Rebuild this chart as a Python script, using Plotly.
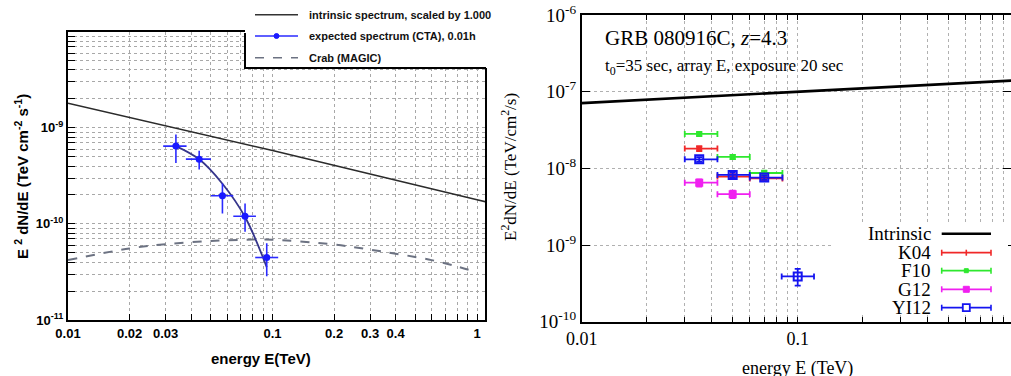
import plotly.graph_objects as go

W, H = 1011, 376

# ---------------- Left panel data ----------------
L_INTR_E = [0.01, 0.1, 1.0, 1.1]
L_INTR_V = [1.8e-9, 5.8e-10, 1.78e-10, 1.70e-10]

CRAB_E = [0.01, 0.02, 0.03, 0.05, 0.08, 0.1, 0.2, 0.3, 0.4, 0.6, 0.8, 0.95]
CRAB_V = [4.2e-11, 5.55e-11, 6.15e-11, 6.65e-11, 6.87e-11, 6.85e-11, 6.1e-11,
          5.4e-11, 4.9e-11, 4.2e-11, 3.6e-11, 3.24e-11]

MODEL_E = [0.0337, 0.0438, 0.0569, 0.0734, 0.0937]
MODEL_V = [6.45e-10, 4.7e-10, 2.62e-10, 1.18e-10, 3.55e-11]

CTA_E = [0.0337, 0.0438, 0.0569, 0.0734, 0.0937]
CTA_E_LO = [0.0292, 0.0377, 0.0500, 0.0643, 0.0823]
CTA_E_HI = [0.0380, 0.0500, 0.0643, 0.0830, 0.1066]
CTA_V = [6.45e-10, 4.72e-10, 1.96e-10, 1.2e-10, 4.47e-11]
CTA_V_LO = [4.3e-10, 3.69e-10, 1.28e-10, 8.3e-11, 2.85e-11]
CTA_V_HI = [8.5e-10, 5.76e-10, 2.63e-10, 1.63e-10, 6.3e-11]

L_XTICK_LABELS = {0.01: "0.01", 0.02: "0.02", 0.03: "0.03", 0.1: "0.1",
                  0.2: "0.2", 0.3: "0.3", 0.4: "0.4", 1.0: "1"}
L_YTICK_LABELS = {1e-11: "10<sup>-11</sup>", 1e-10: "10<sup>-10</sup>", 1e-9: "10<sup>-9</sup>"}

# ---------------- Right panel data ----------------
R_INTR_E = [0.01, 0.1, 1.0]
R_INTR_V = [7.1e-8, 1.0e-7, 1.4e-7]

BIN_E = [0.035, 0.05, 0.07, 0.1]
BIN_LO = [0.03, 0.0425, 0.06, 0.0843]
BIN_HI = [0.0425, 0.06, 0.085, 0.119]

K04_V = [1.81e-8, 7.8e-9, 7.4e-9]
K04_ERR = [1.3e-9, 5.5e-10, 5.5e-10]
F10_V = [2.81e-8, 1.41e-8, 8.7e-9]
F10_ERR = [1.6e-9, 9e-10, 6e-10]
G12_V = [6.5e-9, 4.6e-9]
G12_ERR = [7e-10, 5e-10]
YI12_V = [1.31e-8, 8.2e-9, 7.57e-9, 3.9e-10]
YI12_ERR_HI = [9e-10, 6e-10, 5e-10, 1.0e-10]
YI12_ERR_LO = [9e-10, 6e-10, 5e-10, 0.95e-10]

R_XTICK_LABELS = {0.01: "0.01", 0.1: "0.1", 1.0: "1"}
R_YTICK_LABELS = {1e-10: "10<sup>-10</sup>", 1e-9: "10<sup>-9</sup>", 1e-8: "10<sup>-8</sup>",
                  1e-7: "10<sup>-7</sup>", 1e-6: "10<sup>-6</sup>"}


def px(x):
    return x / W


def py(y):
    return 1 - y / H


def log_multiples(first_exp, last_exp, end_exp_inclusive=True):
    vals = []
    for e in range(first_exp, last_exp):
        for m in range(1, 10):
            vals.append(round(m * 10 ** e, 14))
    if end_exp_inclusive:
        vals.append(10 ** last_exp)
    return vals


def xerr(center, lo, hi):
    return [h - c for c, h in zip(center, hi)], [c - l for c, l in zip(center, lo)]


fig = go.Figure()

# ---------- left traces ----------
fig.add_trace(go.Scatter(x=L_INTR_E, y=L_INTR_V, mode="lines",
                         line=dict(color="#2b2b2b", width=1.6),
                         xaxis="x", yaxis="y", showlegend=False))
fig.add_trace(go.Scatter(x=CRAB_E, y=CRAB_V, mode="lines",
                         line=dict(color="#6c7282", width=2, dash="dash", shape="spline"),
                         xaxis="x", yaxis="y", showlegend=False))
fig.add_trace(go.Scatter(x=MODEL_E, y=MODEL_V, mode="lines",
                         line=dict(color="#36368c", width=1.8, shape="spline"),
                         xaxis="x", yaxis="y", showlegend=False))
ex_p, ex_m = xerr(CTA_E, CTA_E_LO, CTA_E_HI)
ey_p = [h - v for v, h in zip(CTA_V, CTA_V_HI)]
ey_m = [v - l for v, l in zip(CTA_V, CTA_V_LO)]
fig.add_trace(go.Scatter(x=CTA_E, y=CTA_V, mode="markers",
                         marker=dict(color="#1a1aff", size=7),
                         error_x=dict(type="data", symmetric=False, array=ex_p, arrayminus=ex_m,
                                      color="#2a2aff", thickness=1.6, width=0),
                         error_y=dict(type="data", symmetric=False, array=ey_p, arrayminus=ey_m,
                                      color="#2a2aff", thickness=1.6, width=0),
                         xaxis="x", yaxis="y", showlegend=False))

# ---------- right traces ----------
fig.add_trace(go.Scatter(x=R_INTR_E, y=R_INTR_V, mode="lines",
                         line=dict(color="black", width=2.6),
                         xaxis="x2", yaxis="y2", showlegend=False))


def series(vals, errp, errm, color, symbol, size, lw=1.8):
    n = len(vals)
    e = BIN_E[:n]
    xp, xm = xerr(e, BIN_LO[:n], BIN_HI[:n])
    return go.Scatter(x=e, y=vals, mode="markers",
                      marker=dict(color=color, size=size, symbol=symbol,
                                  line=dict(color=color, width=2)),
                      error_x=dict(type="data", symmetric=False, array=xp, arrayminus=xm,
                                   color=color, thickness=lw, width=3),
                      error_y=dict(type="data", symmetric=False, array=errp, arrayminus=errm,
                                   color=color, thickness=lw, width=3),
                      xaxis="x2", yaxis="y2", showlegend=False)


fig.add_trace(series(K04_V, K04_ERR, K04_ERR, "#f02828", "square", 4))
fig.add_trace(series(F10_V, F10_ERR, F10_ERR, "#2ee82e", "square", 4))
fig.add_trace(series(G12_V, G12_ERR, G12_ERR, "#f020f0", "square", 6))
fig.add_trace(series(YI12_V, YI12_ERR_HI, YI12_ERR_LO, "#1414f0", "square-open", 8))

# ---------- axes ----------
lx_vals = log_multiples(-2, 0)
ly_vals = log_multiples(-11, -8)
rx_vals = log_multiples(-2, 0)
ry_major = [1e-10, 1e-9, 1e-8, 1e-7, 1e-6]
ry_minor = [v for v in log_multiples(-10, -6, False) if v not in ry_major]


def label_for(d, v):
    for k, t in d.items():
        if abs(v - k) / k < 1e-6:
            return t
    return ""


LFONT = dict(family="Liberation Sans, Arial, sans-serif", size=13, color="black")
RFONT = dict(family="Liberation Serif, Times New Roman, serif", size=18, color="black")

fig.update_layout(
    width=W, height=H, margin=dict(l=0, r=0, t=0, b=0, pad=0, autoexpand=False),
    paper_bgcolor="white", plot_bgcolor="white",
    xaxis=dict(type="log", domain=[px(68), px(485)], range=[-2, 0.039], anchor="y", automargin=False,
               tickmode="array", tickvals=lx_vals,
               ticktext=["<b>%s</b>" % label_for(L_XTICK_LABELS, v) if label_for(L_XTICK_LABELS, v) else "" for v in lx_vals],
               tickfont=LFONT, ticks="inside", ticklen=6, tickcolor="black",
               showline=True, linecolor="black", linewidth=2, mirror=True,
               showgrid=True, gridcolor="#a8a8a8", griddash="dot", gridwidth=1,
               zeroline=False),
    yaxis=dict(type="log", domain=[py(320), py(31.7)], range=[-11, -8], anchor="x", automargin=False,
               tickmode="array", tickvals=ly_vals,
               ticktext=["<b>%s</b>" % label_for(L_YTICK_LABELS, v) if label_for(L_YTICK_LABELS, v) else "" for v in ly_vals],
               tickfont=LFONT, ticks="inside", ticklen=7, tickcolor="black",
               showline=True, linecolor="black", linewidth=2, mirror=True,
               showgrid=True, gridcolor="#a8a8a8", griddash="dot", gridwidth=1,
               zeroline=False),
    xaxis2=dict(type="log", domain=[px(581.7), 1.0], range=[-2, -2 + (W - 581.7) / 216.0], anchor="y2",
                automargin=False,
                tickmode="array", tickvals=rx_vals,
                ticktext=[label_for(R_XTICK_LABELS, v) for v in rx_vals],
                tickfont=RFONT, ticks="inside", ticklen=5, tickcolor="black",
                showline=True, linecolor="black", linewidth=1.6, mirror="ticks",
                showgrid=True, gridcolor="#b0b0b0", griddash="dot", gridwidth=1,
                zeroline=False),
    yaxis2=dict(type="log", domain=[py(321.7), py(15)], range=[-10, -6], anchor="x2", automargin=False,
                tickmode="array", tickvals=ry_major,
                ticktext=[label_for(R_YTICK_LABELS, v) for v in ry_major],
                tickfont=dict(family="Liberation Serif, Times New Roman, serif", size=19, color="black"),
                ticks="inside", ticklen=8, tickcolor="black",
                showline=True, linecolor="black", linewidth=1.6, mirror="ticks",
                showgrid=True, gridcolor="#b0b0b0", griddash="dot", gridwidth=1,
                zeroline=False),
    yaxis3=dict(type="log", domain=[py(321.7), py(15)], range=[-10, -6], anchor="x2", automargin=False,
                overlaying="y2", side="left",
                tickmode="array", tickvals=ry_minor, showticklabels=False,
                ticks="inside", ticklen=4, tickcolor="black", mirror="ticks",
                showline=False, showgrid=False, zeroline=False),
)

# ---------- shapes ----------
shapes = []
# left legend box
shapes.append(dict(type="rect", xref="paper", yref="paper", x0=px(245), x1=px(499), y0=py(68), y1=1.0,
                   fillcolor="white", line=dict(width=0), layer="above"))
shapes.append(dict(type="line", xref="paper", yref="paper", x0=px(245), x1=px(245), y0=py(68), y1=py(33),
                   line=dict(color="black", width=2), layer="above"))
shapes.append(dict(type="line", xref="paper", yref="paper", x0=px(244), x1=px(486), y0=py(68), y1=py(68),
                   line=dict(color="black", width=2), layer="above"))
# left legend samples
shapes.append(dict(type="line", xref="paper", yref="paper", x0=px(255), x1=px(298), y0=py(14.7), y1=py(14.7),
                   line=dict(color="#333333", width=1.6), layer="above"))
shapes.append(dict(type="line", xref="paper", yref="paper", x0=px(255), x1=px(298), y0=py(36), y1=py(36),
                   line=dict(color="#2a2aff", width=1.6), layer="above"))
shapes.append(dict(type="circle", xref="paper", yref="paper", x0=px(274), x1=px(279), y0=py(38.5), y1=py(33.5),
                   fillcolor="#1a1aff", line=dict(color="#1a1aff", width=1), layer="above"))
shapes.append(dict(type="line", xref="paper", yref="paper", x0=px(255), x1=px(298), y0=py(57.7), y1=py(57.7),
                   line=dict(color="#6c7282", width=1.6, dash="dash"), layer="above"))

# right legend background (covers grid lines, leaves bottom ticks visible)
shapes.append(dict(type="rect", xref="paper", yref="paper",
                   x0=px(832), x1=px(1008), y0=py(315), y1=py(222),
                   fillcolor="white", line=dict(width=0), layer="above"))

# right legend samples
leg_y = [233.7, 252.7, 270.7, 289.3, 307.7]
leg_cols = ["black", "#f02828", "#2ee82e", "#f020f0", "#1414f0"]
for i, (yy, c) in enumerate(zip(leg_y, leg_cols)):
    shapes.append(dict(type="line", xref="paper", yref="paper", x0=px(941.7), x1=px(991), y0=py(yy), y1=py(yy),
                       line=dict(color=c, width=2.4 if i == 0 else 1.8), layer="above"))
    if i > 0:
        for xx in (941.7, 991):
            shapes.append(dict(type="line", xref="paper", yref="paper", x0=px(xx), x1=px(xx),
                               y0=py(yy - 3), y1=py(yy + 3), line=dict(color=c, width=1.6), layer="above"))
# legend point symbols
shapes.append(dict(type="line", xref="paper", yref="paper", x0=px(966.3), x1=px(966.3), y0=py(249.7), y1=py(255.7),
                   line=dict(color="#f02828", width=1.6), layer="above"))
shapes.append(dict(type="rect", xref="paper", yref="paper", x0=px(964.3), x1=px(968.3), y0=py(272.7), y1=py(268.7),
                   fillcolor="#2ee82e", line=dict(color="#2ee82e", width=1), layer="above"))
shapes.append(dict(type="rect", xref="paper", yref="paper", x0=px(963.3), x1=px(969.3), y0=py(292.3), y1=py(286.3),
                   fillcolor="#f020f0", line=dict(color="#f020f0", width=1), layer="above"))
shapes.append(dict(type="rect", xref="paper", yref="paper", x0=px(962.8), x1=px(969.8), y0=py(311.2), y1=py(304.2),
                   fillcolor="white", line=dict(color="#1414f0", width=1.8), layer="above"))
fig.update_layout(shapes=shapes)

# ---------- annotations ----------
ann = []
LEGF = dict(family="Liberation Sans, Arial, sans-serif", size=11, color="#111111")
for yy, t in zip([14.7, 36, 57.7], ["intrinsic spectrum, scaled by 1.000",
                                     "expected spectrum (CTA), 0.01h", "Crab (MAGIC)"]):
    ann.append(dict(xref="paper", yref="paper", x=px(307), y=py(yy), xanchor="left", yanchor="middle",
                    text="<b>%s</b>" % t, showarrow=False, font=LEGF))
# left axis titles
ann.append(dict(xref="paper", yref="paper", x=px(21), y=py(177), xanchor="center", yanchor="middle",
                text="<b>E <sup>2</sup> dN/dE (TeV cm<sup>-2</sup> s<sup>-1</sup>)</b>", textangle=-90,
                showarrow=False, font=dict(family="Liberation Sans, Arial, sans-serif", size=15, color="black")))
ann.append(dict(xref="paper", yref="paper", x=px(261), y=py(358), xanchor="center", yanchor="middle",
                text="<b>energy E(TeV)</b>", showarrow=False,
                font=dict(family="Liberation Sans, Arial, sans-serif", size=15, color="black")))
# right titles
ann.append(dict(xref="paper", yref="paper", x=px(603), y=py(38), xanchor="left", yanchor="middle",
                text="GRB 080916C, <i>z</i>=4.3", showarrow=False,
                font=dict(family="Liberation Serif, Times New Roman, serif", size=21, color="black")))
ann.append(dict(xref="paper", yref="paper", x=px(603), y=py(67), xanchor="left", yanchor="middle",
                text="t<sub>0</sub>=35 sec, array E, exposure 20 sec", showarrow=False,
                font=dict(family="Liberation Serif, Times New Roman, serif", size=17, color="black")))
ann.append(dict(xref="paper", yref="paper", x=px(509), y=py(167), xanchor="center", yanchor="middle",
                text="E<sup>2</sup>dN/dE (TeV/cm<sup>2</sup>/s)", textangle=-90, showarrow=False,
                font=dict(family="Liberation Serif, Times New Roman, serif", size=17, color="black")))
ann.append(dict(xref="paper", yref="paper", x=px(797), y=py(368), xanchor="center", yanchor="middle",
                text="energy E (TeV)", showarrow=False,
                font=dict(family="Liberation Serif, Times New Roman, serif", size=18, color="black")))
for yy, t in zip(leg_y, ["Intrinsic", "K04", "F10", "G12", "YI12"]):
    ann.append(dict(xref="paper", yref="paper", x=px(933), y=py(yy), xanchor="right", yanchor="middle",
                    text=t, showarrow=False,
                    font=dict(family="Liberation Serif, Times New Roman, serif", size=19, color="black")))
fig.update_layout(annotations=ann)

fig.write_html("out.html", config={"displayModeBar": False},
               post_script="document.body.style.margin='0px';")
